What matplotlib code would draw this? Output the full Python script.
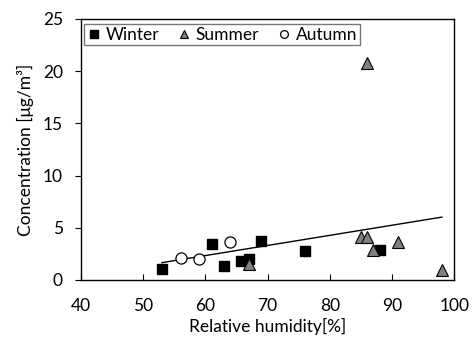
import matplotlib
matplotlib.use("Agg")
import matplotlib.pyplot as plt

plt.rcParams['font.family'] = ['Lato', 'DejaVu Sans']

winter_x = [53, 61, 63, 65.7, 67, 69, 76, 88]
winter_y = [1.05, 3.42, 1.34, 1.8, 2.05, 3.7, 2.8, 2.87]
summer_x = [67, 85, 86, 86, 87, 91, 98]
summer_y = [1.5, 4.15, 4.1, 20.8, 2.87, 3.67, 0.96]
autumn_x = [56, 59, 64]
autumn_y = [2.08, 1.98, 3.6]
trend_x = [53, 98]
trend_y = [1.66, 6.02]

x_ticks = [40, 50, 60, 70, 80, 90, 100]
y_ticks = [0, 5, 10, 15, 20, 25]

fig = plt.figure(figsize=(4.75, 3.4), dpi=100)
ax = fig.add_axes([0.1705, 0.1765, 0.786, 0.768])

ax.plot(trend_x, trend_y, color='black', lw=1.0, zorder=2)
ax.plot(winter_x, winter_y, 's', color='black', markersize=7.5, label='Winter', zorder=3)
ax.plot(summer_x, summer_y, '^', markerfacecolor='#808080', markeredgecolor='black',
        markeredgewidth=0.8, markersize=8.5, label='Summer', zorder=3)
ax.plot(autumn_x, autumn_y, 'o', markerfacecolor='white', markeredgecolor='black',
        markeredgewidth=0.9, markersize=8, label='Autumn', zorder=3)

ax.set_xlim(40, 100)
ax.set_ylim(0, 25)
ax.set_xticks(x_ticks)
ax.set_yticks(y_ticks)
ax.tick_params(axis='x', direction='in', length=4, labelsize=12.5, pad=13)
ax.tick_params(axis='y', direction='out', length=4, labelsize=12.5, pad=9)
for s in ax.spines.values():
    s.set_linewidth(1.0)

ax.set_xlabel('Relative humidity[%]', fontsize=12.5, labelpad=3)
ax.set_ylabel('Concentration [μg/m³]', fontsize=12.5, labelpad=6)

leg = ax.legend(loc='upper left', bbox_to_anchor=(0.008, 0.98), ncol=3, fontsize=12.5,
                frameon=True, fancybox=False, edgecolor='#555555', markerscale=0.7,
                handlelength=0.8, handletextpad=0.3, columnspacing=1.0,
                borderpad=0.15, borderaxespad=0.0)
leg.get_frame().set_linewidth(1.0)

fig.savefig('out.png', dpi=100)
